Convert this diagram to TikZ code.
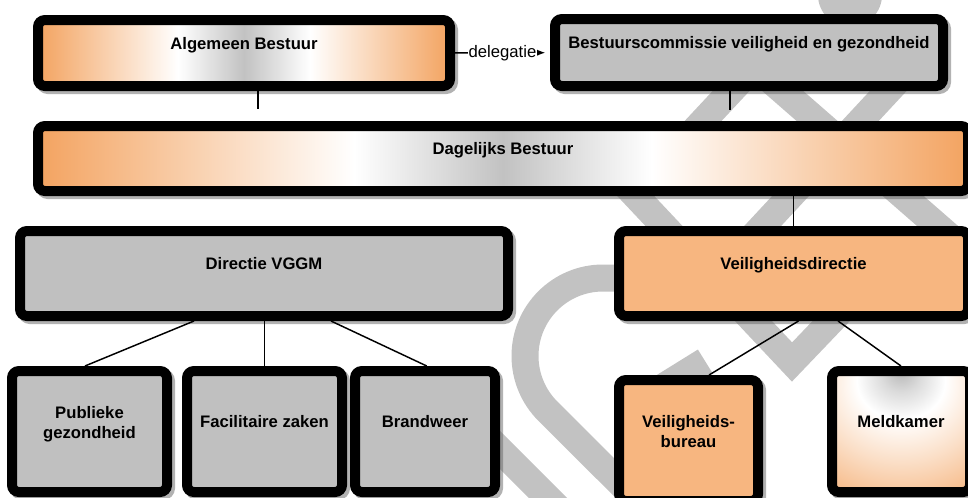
\documentclass[tikz,border=0pt]{standalone}
\usepackage{fontspec}
\setmainfont{Liberation Sans}
\usetikzlibrary{arrows.meta,shadows}

\definecolor{boxgray}{RGB}{192,192,192}
\definecolor{veilig}{RGB}{247,182,128}
\definecolor{bestuurorange}{RGB}{243,163,96}
\definecolor{stampgray}{RGB}{194,194,194}

\pgfdeclarehorizontalshading{bestuur}{100bp}{color(0bp)=(bestuurorange); color(25bp)=(bestuurorange); color(42bp)=(white); color(50bp)=(black!24); color(58bp)=(white); color(75bp)=(bestuurorange); color(100bp)=(bestuurorange)}
\pgfdeclareradialshading{meldkamer}{\pgfpoint{0bp}{25bp}}{color(0bp)=(black!28); color(7bp)=(black!14); color(16bp)=(white); color(30bp)=(bestuurorange!35); color(45bp)=(bestuurorange!75); color(57bp)=(bestuurorange); color(100bp)=(bestuurorange)}

\begin{document}
\begin{tikzpicture}[x=0.75pt, y=-0.75pt,
	box/.style={draw=black, line width=7.5pt, rounded corners=5.25pt, inner sep=0pt,
		text height=9pt, text depth=15pt, font=\bfseries\fontsize{12.5}{15}\selectfont,
		drop shadow={shadow xshift=2.25pt, shadow yshift=-2.25pt, draw=black!60, line width=7.5pt, fill=black!60}},
	twoline/.style={text height=25pt, text depth=15pt},
	link/.style={line width=1.1pt},
	stamp/.style={draw=stampgray, line width=20.25pt}]
	\useasboundingbox (0,0) rectangle (968,497);

	% watermark in the background
	\fill[stampgray] (850,-5) circle[radius=32];
	\draw[stamp] (620,278) -- (603,278) arc[start angle=-90, end angle=-225, radius=78] -- (665,528);
	\draw[stamp] (616,175) -- (792,362) -- (880,270);
	\draw[stamp] (730,45) -- (1011,290);
	\draw[stamp] (917,60) -- (745,245);
	\draw[stamp] (690,135) -- (760,60);
	\draw[stamp] (655,392) -- (705,361);
	\draw[stamp] (460,410) -- (560,510);

	% bestuur
	\node[box, shading=bestuur, minimum width=309pt, minimum height=49.5pt] (AB) at (244,53) {Algemeen Bestuur};
	\node[box, fill=boxgray, minimum width=291pt, minimum height=50.25pt] (BC) at (749,52.5) {Bestuurscommissie veiligheid en gezondheid};
	\node[box, shading=bestuur, minimum width=697.5pt, minimum height=48.75pt] (DB) at (503,158.5) {Dagelijks Bestuur};

	% directies
	\node[box, fill=boxgray, minimum width=366pt, minimum height=63.75pt] (VGGM) at (264,273.5) {Directie VGGM};
	\node[box, fill=veilig, minimum width=261.75pt, minimum height=63.75pt] (VD) at (793.5,273.5) {Veiligheidsdirectie};

	% afdelingen
	\node[box, twoline, fill=boxgray, minimum width=116.25pt, minimum height=90.75pt] (PG) at (89.5,431.5) {\begin{tabular}[b]{@{}c@{}}Publieke\\gezondheid\end{tabular}};
	\node[box, fill=boxgray, minimum width=116.25pt, minimum height=90.75pt] (FZ) at (264.5,431.5) {Facilitaire zaken};
	\node[box, fill=boxgray, minimum width=105pt, minimum height=90.75pt] (BW) at (425,431.5) {Brandweer};
	\node[box, twoline, fill=veilig, minimum width=104.25pt, minimum height=90.75pt] (VB) at (688.5,440.5) {\begin{tabular}[b]{@{}c@{}}Veiligheids-\\bureau\end{tabular}};
	\node[box, shading=meldkamer, minimum width=103.5pt, minimum height=90.75pt] (MK) at (901,431.5) {Meldkamer};

	% Draw the connections between the boxes
	\coordinate (AB-down) at ([xshift=10.5pt]AB.south);
	\coordinate (BC-down) at ([xshift=-14.25pt]BC.south);
	\draw[link, -{Latex[length=9pt, width=8pt]}, shorten >=3.75pt] (AB) -- node[fill=white, inner xsep=0.5pt, inner ysep=1pt, font=\fontsize{12.5}{14}\selectfont] (deleg) {delegatie} (BC);
	\draw[link, shorten >=9pt] (AB-down) -- (AB-down |- DB.north);
	\draw[link, shorten >=8.25pt] (BC-down) -- (BC-down |- DB.north);
	\draw[link] (VD.north |- DB.south) -- (VD.north);
	\draw[link] ([xshift=-52.5pt]VGGM.south) -- ([xshift=-3.4pt]PG.north);
	\draw[link] (FZ.north |- VGGM.south) -- (FZ.north);
	\draw[link] ([xshift=50.25pt]VGGM.south) -- ([xshift=1.3pt]BW.north);
	\draw[link] ([xshift=3.75pt]VD.south) -- ([xshift=15.4pt]VB.north);
	\draw[link] ([xshift=33.4pt]VD.south) -- (MK.north);
\end{tikzpicture}
\end{document}
